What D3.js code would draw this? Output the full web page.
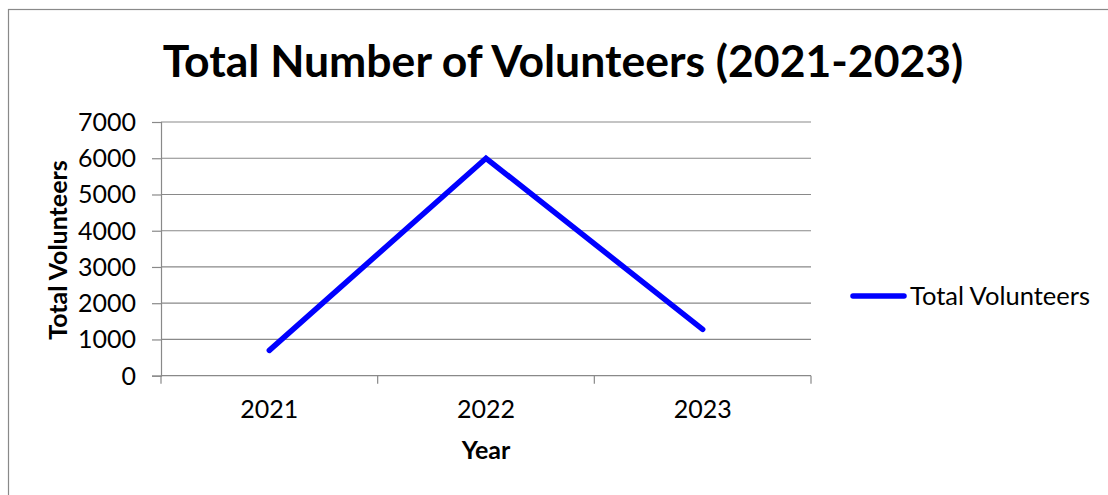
<!DOCTYPE html>
<html>
<head>
<meta charset="utf-8">
<script src="https://cdn.jsdelivr.net/npm/d3@7"></script>
<style>
  html, body { margin: 0; padding: 0; background: #fff; }
  svg { display: block; }
  text { font-family: Lato, "Open Sans", sans-serif; fill: #000; }
</style>
</head>
<body>
<script>
// Volunteer totals per year
const years = ["2021", "2022", "2023"];
const volunteers = [700, 6000, 1280];
const yTicks = [0, 1000, 2000, 3000, 4000, 5000, 6000, 7000];
const seriesName = "Total Volunteers";
const titleText = "Total Number of Volunteers (2021-2023)";
const xTitle = "Year";
const yTitle = "Total Volunteers";

const W = 1108, H = 495;
const plot = { left: 161, right: 811, top: 122, bottom: 375.7 };
const gridColor = "#898989";

const svg = d3.select("body").append("svg")
  .attr("width", W).attr("height", H);

// chart frame
svg.append("rect")
  .attr("x", 8.5).attr("y", 9.5)
  .attr("width", W + 20).attr("height", H + 20)
  .attr("fill", "#fff")
  .attr("stroke", gridColor).attr("stroke-width", 1.2);

const x = d3.scaleBand().domain(years).range([plot.left, plot.right]);
const y = d3.scaleLinear().domain([0, 7000]).range([plot.bottom, plot.top]);

// horizontal gridlines
svg.append("g").selectAll("line")
  .data(yTicks.filter(d => d > 0))
  .join("line")
  .attr("x1", plot.left).attr("x2", plot.right)
  .attr("y1", d => y(d)).attr("y2", d => y(d))
  .attr("stroke", gridColor).attr("stroke-width", 1.2);

// y axis
const yAxis = svg.append("g")
  .attr("transform", `translate(${plot.left},0)`)
  .call(d3.axisLeft(y).tickValues(yTicks).tickSize(9).tickPadding(16).tickFormat(d3.format("d")));
yAxis.select(".domain").attr("stroke", gridColor).attr("stroke-width", 1.2);
yAxis.selectAll(".tick line").attr("stroke", gridColor).attr("stroke-width", 1.2);
yAxis.selectAll(".tick text")
  .style("font-family", "Lato, sans-serif").style("font-size", "25px").attr("fill", "#000")
  .attr("dy", "0.34em");

// x axis with tick marks at category boundaries
const xg = svg.append("g").attr("transform", `translate(0,${plot.bottom})`);
xg.append("line")
  .attr("x1", plot.left).attr("x2", plot.right)
  .attr("stroke", gridColor).attr("stroke-width", 1.2);
const bounds = years.map(d => x(d)).concat([x(years[years.length - 1]) + x.bandwidth()]);
xg.selectAll("line.tk").data(bounds).join("line")
  .attr("class", "tk")
  .attr("x1", d => d).attr("x2", d => d)
  .attr("y1", 0).attr("y2", 8)
  .attr("stroke", gridColor).attr("stroke-width", 1.2);
xg.selectAll("text").data(years).join("text")
  .attr("x", d => x(d) + x.bandwidth() / 2)
  .attr("y", 42)
  .attr("text-anchor", "middle")
  .style("font-size", "25px")
  .text(d => d);

// series line
const line = d3.line()
  .x((d, i) => x(years[i]) + x.bandwidth() / 2)
  .y(d => y(d));
svg.append("path")
  .datum(volunteers)
  .attr("d", line)
  .attr("fill", "none")
  .attr("stroke", "#0000ff")
  .attr("stroke-width", 5.5)
  .attr("stroke-linejoin", "miter")
  .attr("stroke-linecap", "round");

// title
svg.append("text")
  .attr("x", 563).attr("y", 77)
  .attr("text-anchor", "middle")
  .style("font-size", "44.5px").style("font-weight", "bold")
  .text(titleText);

// axis titles
svg.append("text")
  .attr("x", (plot.left + plot.right) / 2).attr("y", 459)
  .attr("text-anchor", "middle")
  .style("font-size", "25px").style("font-weight", "bold")
  .text(xTitle);

svg.append("text")
  .attr("transform", `translate(67,250) rotate(-90)`)
  .attr("text-anchor", "middle")
  .style("font-size", "25px").style("font-weight", "bold")
  .text(yTitle);

// legend
const lg = svg.append("g");
lg.append("line")
  .attr("x1", 853).attr("x2", 904)
  .attr("y1", 296).attr("y2", 296)
  .attr("stroke", "#0000ff").attr("stroke-width", 5.5)
  .attr("stroke-linecap", "round");
lg.append("text")
  .attr("x", 910).attr("y", 296)
  .attr("dy", "0.34em")
  .style("font-size", "25.5px")
  .text(seriesName);
</script>
</body>
</html>
